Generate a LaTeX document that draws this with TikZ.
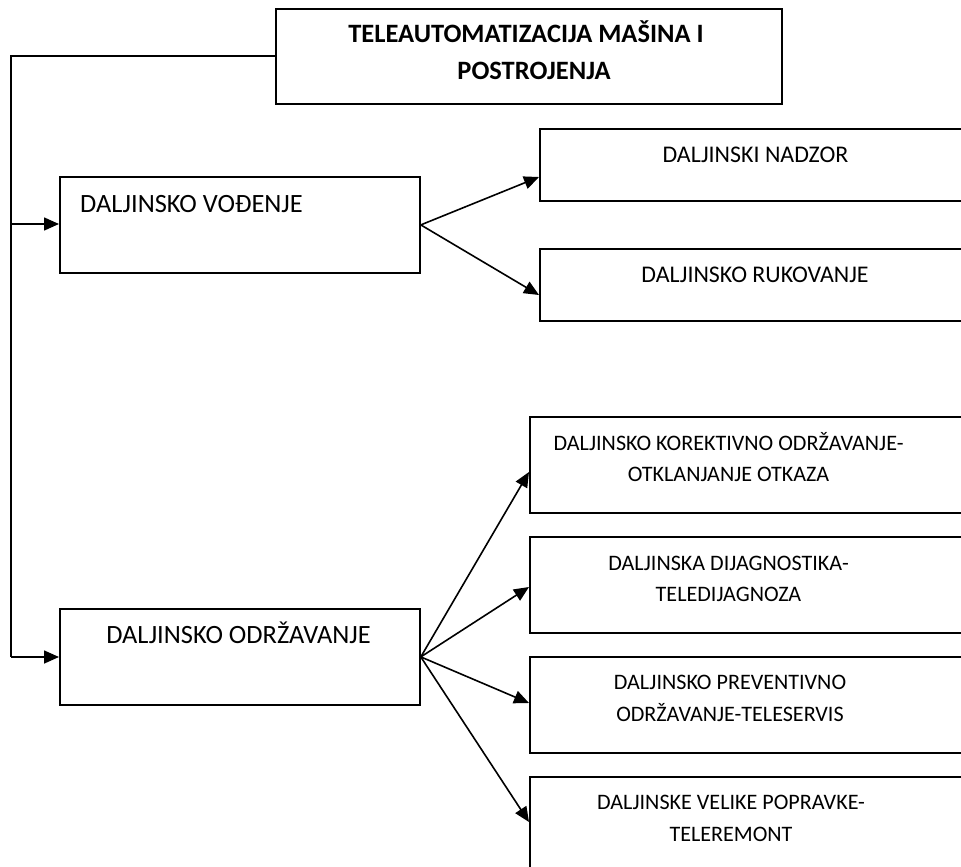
\documentclass[tikz,border=0pt]{standalone}
\usepackage{fontspec}
\setmainfont{Carlito}
\usetikzlibrary{arrows.meta,calc}
\begin{document}
\begin{tikzpicture}[x=1pt,y=-1pt,
  box/.style={draw=black,line width=1.8pt,fill=white,rectangle,inner sep=0pt,anchor=north west},
  txt/.style={anchor=base,inner sep=0pt,font=\fontsize{22.1}{30}\selectfont},
  midtxt/.style={txt,font=\fontsize{23.9}{30}\selectfont},
  bigtxt/.style={txt,font=\fontsize{26.4}{30}\selectfont},
  bold/.style={txt,font=\fontsize{26.5}{30}\selectfont\bfseries},
  link/.style={line width=1.6pt},
  arr/.style={line width=1.6pt,-{Triangle[length=15pt,width=13pt]}}]
\useasboundingbox (0,0) rectangle (961,867);
\clip (0,0) rectangle (961,867);
\fill[white] (0,0) rectangle (961,867);

% root
\node[box,minimum width=506pt,minimum height=95pt] (root) at (275,8) {};
\node[bold] (root1) at (526,43) {TELEAUTOMATIZACIJA MAŠINA I};
\node[bold] (root2) at (534,79) {POSTROJENJA};

% two main branches
\node[box,minimum width=360pt,minimum height=96pt] (vod) at (59,176) {};
\node[bigtxt,anchor=base west] (vodt) at (80,212) {DALJINSKO VOĐENJE};
\node[box,minimum width=360pt,minimum height=96pt] (odr) at (59,608) {};
\node[bigtxt] (odrt) at (238.5,643) {DALJINSKO ODRŽAVANJE};

% sub-boxes of remote control
\node[box,minimum width=440pt,minimum height=72pt] (nad) at (539,128) {};
\node[midtxt] (nadt) at (755.5,162) {DALJINSKI NADZOR};
\node[box,minimum width=440pt,minimum height=72pt] (ruk) at (539,248) {};
\node[midtxt] (rukt) at (755,282) {DALJINSKO RUKOVANJE};

% sub-boxes of remote maintenance
\node[box,minimum width=450pt,minimum height=96pt] (k1) at (529,416) {};
\node[txt] (k1a) at (728.5,450) {DALJINSKO KOREKTIVNO ODRŽAVANJE-};
\node[txt] (k1b) at (728.5,481) {OTKLANJANJE OTKAZA};
\node[box,minimum width=450pt,minimum height=96pt] (k2) at (529,536) {};
\node[txt] (k2a) at (728.5,570) {DALJINSKA DIJAGNOSTIKA-};
\node[txt] (k2b) at (728.5,601) {TELEDIJAGNOZA};
\node[box,minimum width=450pt,minimum height=96pt] (k3) at (529,656) {};
\node[txt] (k3a) at (730,689) {DALJINSKO PREVENTIVNO};
\node[txt] (k3b) at (730,721) {ODRŽAVANJE-TELESERVIS};
\node[box,minimum width=450pt,minimum height=110pt] (k4) at (529,776) {};
\node[txt] (k4a) at (731,809) {DALJINSKE VELIKE POPRAVKE-};
\node[txt] (k4b) at (731,841) {TELEREMONT};

% trunk from root down the left side
\coordinate (tA) at (11,224);
\coordinate (tB) at (11,657);
\draw[link] (root.west |- 0,56) -| (tB);
\draw[arr] (tA) -- (vod.west |- tA);
\draw[arr] (tB) -- (odr.west |- tB);

% fan-out arrows
\draw[arr] (vod.east) -- ($(nad.north west)+(0,49)$);
\draw[arr] (vod.east) -- ($(ruk.north west)+(0,47)$);
\draw[arr] (odr.east) -- ($(k1.north west)+(0,56)$);
\draw[arr] (odr.east) -- ($(k2.north west)+(0,51)$);
\draw[arr] (odr.east) -- ($(k3.north west)+(0,47)$);
\draw[arr] (odr.east) -- ($(k4.north west)+(0,46)$);
\end{tikzpicture}
\end{document}
